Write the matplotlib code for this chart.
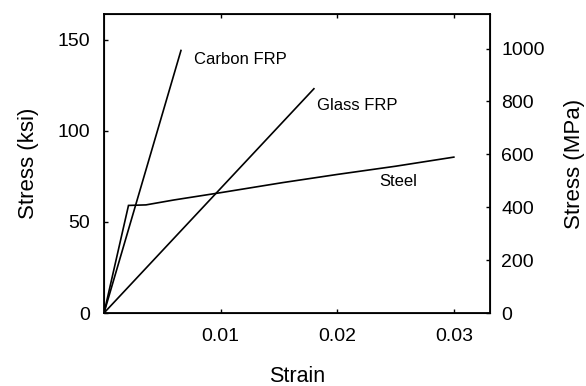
import matplotlib
matplotlib.use("Agg")
import matplotlib.pyplot as plt

plt.rcParams['font.family'] = ['Liberation Sans', 'DejaVu Sans']

KSI_TO_MPA = 6.895

carbon_strain = [0.0, 0.0066]
carbon_stress = [0.0, 144.0]

glass_strain = [0.0, 0.0180]
glass_stress = [0.0, 123.0]

steel_strain = [0.0, 0.0021, 0.0036, 0.0060, 0.0100, 0.0153, 0.0200, 0.0250, 0.0300]
steel_stress = [0.0, 59.0, 59.3, 62.0, 66.0, 71.5, 76.0, 80.5, 85.5]

x_ticks = [0.01, 0.02, 0.03]
x_tick_labels = ["0.01", "0.02", "0.03"]
ksi_ticks = [0, 50, 100, 150]
mpa_ticks = [0, 200, 400, 600, 800, 1000]

fig = plt.figure(figsize=(5.86, 3.86), dpi=100)
ax = fig.add_axes([104/586, 1 - 313/386, (490-104)/586, (313-14)/386])

for xs, ys in [(carbon_strain, carbon_stress), (glass_strain, glass_stress), (steel_strain, steel_stress)]:
    ax.plot(xs, ys, color='black', lw=1.2, solid_joinstyle='miter')

ax.set_xlim(0.0, 0.0331)
ax.set_ylim(0, 164)
ax.set_xticks(x_ticks)
ax.set_xticklabels(x_tick_labels)
ax.set_yticks(ksi_ticks)
ax.tick_params(axis='both', direction='in', length=3, width=1, labelsize=14, top=True)
ax.tick_params(axis='x', pad=11)
ax.tick_params(axis='y', pad=10)
for s in ax.spines.values():
    s.set_linewidth(1.3)

ax.set_xlabel("Strain", fontsize=15.5, labelpad=15)
ax.set_ylabel("Stress (ksi)", fontsize=16, labelpad=13)

ax2 = ax.twinx()
ax2.set_ylim(0, 164 * KSI_TO_MPA)
ax2.set_yticks(mpa_ticks)
ax2.tick_params(axis='y', direction='in', length=3, width=1, labelsize=14, pad=8)
ax2.set_ylabel("Stress (MPa)", fontsize=16, labelpad=14)

ax.text(0.0077, 139, "Carbon FRP", fontsize=12, ha='left', va='center')
ax.text(0.0183, 114, "Glass FRP", fontsize=12, ha='left', va='center')
ax.text(0.0236, 72, "Steel", fontsize=12, ha='left', va='center')

fig.savefig("out.png", dpi=100)
